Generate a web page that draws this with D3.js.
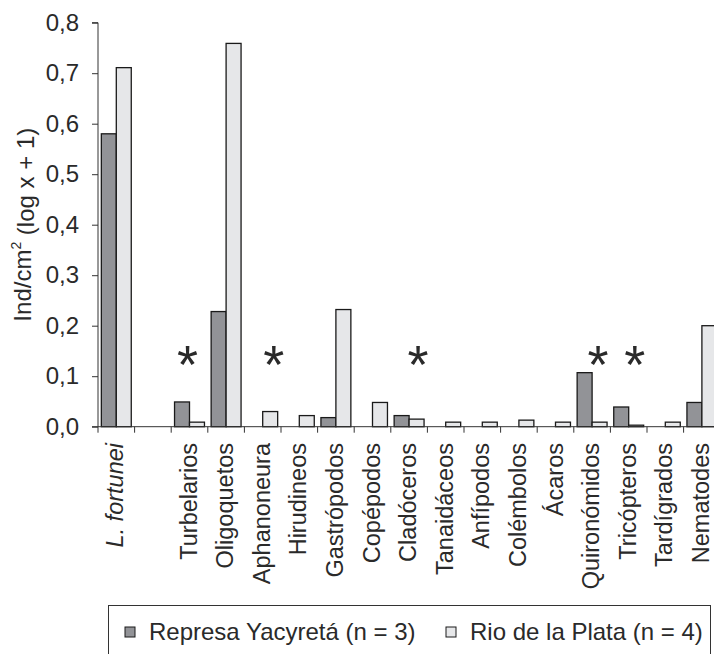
<!DOCTYPE html>
<html>
<head>
<meta charset="utf-8">
<script src="https://cdn.jsdelivr.net/npm/d3@7"></script>
<style>
  html, body { margin: 0; padding: 0; background: #fff; }
  svg { display: block; }
  text { font-family: "Liberation Sans", Arial, Helvetica, sans-serif; fill: #2a2a2a; }
</style>
</head>
<body>
<script>
// Taxa, in plotting order; the empty entry leaves a gap after L. fortunei
const categories = ["L. fortunei", "", "Turbelarios", "Oligoquetos", "Aphanoneura", "Hirudineos",
  "Gastrópodos", "Copépodos", "Cladóceros", "Tanaidáceos", "Anfípodos", "Colémbolos",
  "Ácaros", "Quironómidos", "Tricópteros", "Tardígrados", "Nematodes"];

const seriesNames = ["Represa Yacyretá (n = 3)", "Rio de la Plata (n = 4)"];

// Ind/cm² (log x + 1)
const yacyreta = [0.58, null, 0.049, 0.228, 0, 0, 0.018, 0, 0.022, 0, 0, 0, 0, 0.107, 0.039, 0, 0.048];
const plata    = [0.711, null, 0.009, 0.759, 0.030, 0.022, 0.232, 0.048, 0.015, 0.009, 0.009, 0.013, 0.009, 0.009, 0.003, 0.009, 0.200];

const yTicks = [0, 0.1, 0.2, 0.3, 0.4, 0.5, 0.6, 0.7, 0.8];

// Taxa with significant differences between sites
const significant = ["Turbelarios", "Aphanoneura", "Cladóceros", "Quironómidos", "Tricópteros"];

const W = 714, H = 654;
const plotLeft = 98, plotTop = 22.7, plotBottom = 426.7, step = 36.6;
const colors = ["#929397", "#e6e7e9"];

const svg = d3.select("body").append("svg").attr("width", W).attr("height", H);
svg.append("rect").attr("width", W).attr("height", H).attr("fill", "#fff");

const x = d3.scaleBand().domain(categories).range([plotLeft, plotLeft + step * categories.length]).padding(0);
const xs = d3.scaleBand().domain(seriesNames).range([0, x.bandwidth()]).paddingInner(0).paddingOuter(0.223);
const y = d3.scaleLinear().domain([0, 0.8]).range([plotBottom, plotTop]);

// Bars
const rows = categories.map((c, i) => ({ c, vals: [yacyreta[i], plata[i]] }));
const g = svg.append("g");
rows.forEach(r => {
  r.vals.forEach((v, s) => {
    if (v == null || v <= 0) return;
    g.append("rect")
      .attr("x", x(r.c) + xs(seriesNames[s]))
      .attr("y", y(v))
      .attr("width", xs.bandwidth())
      .attr("height", y(0) - y(v))
      .attr("fill", colors[s])
      .attr("stroke", "#1a1a1a")
      .attr("stroke-width", 1.3);
  });
});

// Y axis
const yAxis = d3.axisLeft(y).tickValues(yTicks).tickSize(6).tickPadding(13)
  .tickFormat(d => d3.format(".1f")(d).replace(".", ","));
const ya = svg.append("g").attr("transform", `translate(${plotLeft},0)`).call(yAxis);
ya.select(".domain").attr("stroke", "#333").attr("d", `M-6,${plotTop}H0V${plotBottom}H-6`);
ya.selectAll(".tick line").attr("stroke", "#333");
ya.selectAll(".tick text").attr("font-size", 24).attr("font-family", "Liberation Sans, Arial, sans-serif").attr("fill", "#2a2a2a");

// X axis line with ticks between categories
const bounds = categories.map(c => x(c)).concat([x(categories[categories.length - 1]) + x.bandwidth()]);
svg.append("line").attr("x1", plotLeft).attr("x2", bounds[bounds.length - 1])
  .attr("y1", plotBottom).attr("y2", plotBottom).attr("stroke", "#333");
svg.selectAll(".xtick").data(bounds).join("line").attr("class", "xtick")
  .attr("x1", d => d).attr("x2", d => d).attr("y1", plotBottom).attr("y2", plotBottom + 6)
  .attr("stroke", "#333");

// Category labels
svg.selectAll(".xlab").data(categories).join("text").attr("class", "xlab")
  .attr("transform", d => `translate(${x(d) + x.bandwidth() / 2},443) rotate(-90)`)
  .attr("text-anchor", "end").attr("dy", "0.3em")
  .attr("font-size", 23.5)
  .attr("font-style", d => d === "L. fortunei" ? "italic" : "normal")
  .text(d => d);

// Y title
const yt = svg.append("text").attr("transform", `translate(23,${(plotTop + plotBottom) / 2}) rotate(-90)`)
  .attr("text-anchor", "middle").attr("dy", "0.35em").attr("font-size", 24);
yt.append("tspan").text("Ind/cm");
yt.append("tspan").attr("font-size", 14).attr("dy", "-0.75em").text("2");
yt.append("tspan").attr("dy", "0.55em").text(" (log x + 1)");

// Significance marks
const nudge = { "Turbelarios": -2, "Aphanoneura": 11, "Cladóceros": 9, "Quironómidos": 6, "Tricópteros": 6 };
svg.selectAll(".sig").data(significant).join("text").attr("class", "sig")
  .attr("x", d => x(d) + x.bandwidth() / 2 + nudge[d])
  .attr("y", 383)
  .attr("text-anchor", "middle")
  .attr("font-size", 54)
  .attr("fill", "#000")
  .text("*");

// Legend
svg.append("rect").attr("x", 108.5).attr("y", 605.5).attr("width", 602).attr("height", 52)
  .attr("fill", "none").attr("stroke", "#333");
const legendX = [125, 446];
seriesNames.forEach((s, i) => {
  svg.append("rect").attr("x", legendX[i]).attr("y", 627).attr("width", 10).attr("height", 10)
    .attr("fill", colors[i]).attr("stroke", "#1a1a1a");
  svg.append("text").attr("x", legendX[i] + 24).attr("y", 632).attr("dy", "0.35em")
    .attr("font-size", 24).text(s);
});
</script>
</body>
</html>
